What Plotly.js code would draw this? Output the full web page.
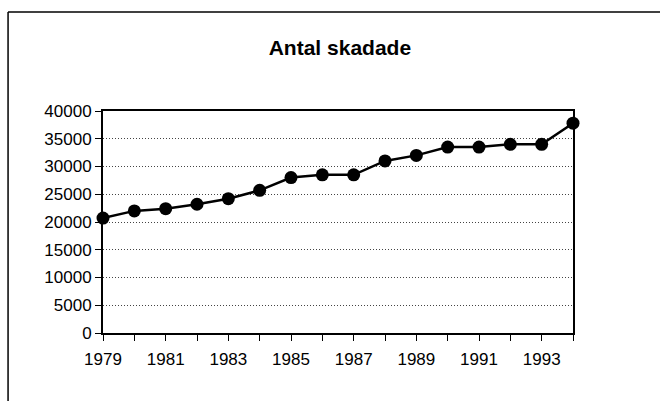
<!DOCTYPE html>
<html>
<head>
<meta charset="utf-8">
<script src="https://cdn.plot.ly/plotly-3.0.1.min.js"></script>
<style>
  html, body { margin: 0; padding: 0; background: #fff; }
  #myDiv { width: 660px; height: 401px; }
</style>
</head>
<body>
<div id="myDiv"></div>
<script>
var years = [1979, 1980, 1981, 1982, 1983, 1984, 1985, 1986, 1987, 1988, 1989, 1990, 1991, 1992, 1993, 1994];
var skadade = [20700, 22000, 22400, 23200, 24200, 25700, 28000, 28500, 28500, 31000, 32000, 33500, 33500, 34000, 34000, 37800];
var yTicks = [0, 5000, 10000, 15000, 20000, 25000, 30000, 35000, 40000];
var yLabels = ['0', '5000', '10000', '15000', '20000', '25000', '30000', '35000', '40000'];
var xTicks = [1979, 1981, 1983, 1985, 1987, 1989, 1991, 1993];

var trace1 = {
  x: years,
  y: skadade,
  type: 'scatter',
  mode: 'lines+markers',
  line: {color: '#000', width: 2.5},
  marker: {color: '#000', size: 13},
  cliponaxis: false,
  showlegend: false
};

var layout = {
  width: 660,
  height: 401,
  paper_bgcolor: '#fff',
  plot_bgcolor: '#fff',
  font: {family: 'Liberation Sans, Arial, sans-serif', color: '#000', size: 17},
  margin: {l: 103, r: 87, t: 111, b: 68},
  title: {
    text: '<b>Antal skadade</b>',
    font: {size: 21, color: '#000'},
    x: 0.515, xanchor: 'center',
    y: 0.88, yanchor: 'middle'
  },
  xaxis: {
    range: [1979, 1994],
    tickvals: xTicks,
    ticktext: xTicks.map(String),
    ticks: 'outside',
    ticklen: 6,
    tickwidth: 1,
    tickcolor: '#000',
    ticklabelstandoff: 4,
    minor: {dtick: 1, tick0: 1979, ticks: 'outside', ticklen: 6, tickcolor: '#000', showgrid: false},
    showgrid: false,
    zeroline: false,
    showline: true,
    linecolor: '#000',
    linewidth: 2,
    mirror: true,
    tickfont: {size: 17}
  },
  yaxis: {
    range: [0, 40000],
    tickvals: yTicks,
    ticktext: yLabels,
    ticks: 'outside',
    ticklen: 6,
    tickcolor: '#000',
    showgrid: true,
    gridcolor: '#444',
    griddash: '1px,2px',
    gridwidth: 1,
    zeroline: false,
    showline: true,
    linecolor: '#000',
    linewidth: 2,
    mirror: true,
    tickfont: {size: 17}
  },
  shapes: [
    {type: 'line', xref: 'paper', yref: 'paper', x0: -0.202, x1: 1.3, y0: 1.446, y1: 1.446,
     line: {color: '#000', width: 1.5}},
    {type: 'line', xref: 'paper', yref: 'paper', x0: -0.202, x1: -0.202, y0: 1.446, y1: -0.4,
     line: {color: '#000', width: 1.5}}
  ]
};

Plotly.newPlot('myDiv', [trace1], layout, {staticPlot: true});
</script>
</body>
</html>
